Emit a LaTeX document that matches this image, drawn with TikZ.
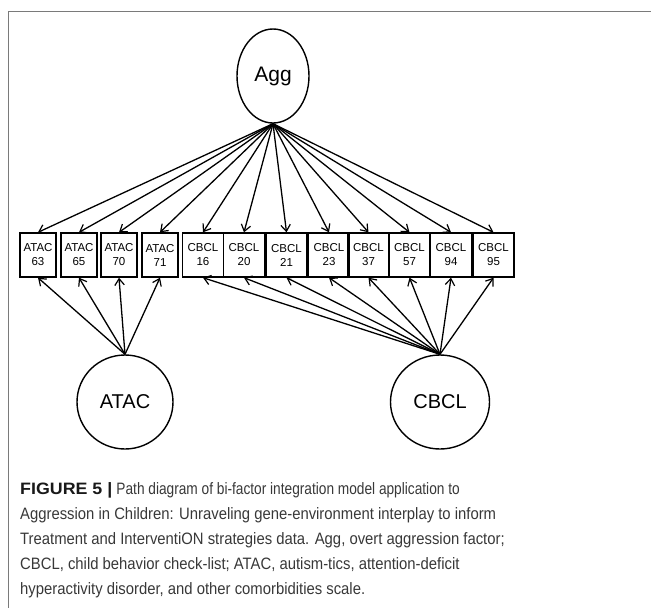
\documentclass[tikz,border=0pt]{standalone}
\usepackage{fontspec}
\setmainfont{Liberation Sans}
\newfontfamily\captfont[FakeStretch=0.9]{Liberation Sans}
\newfontfamily\captnarrow[FakeStretch=0.83]{Liberation Sans}
\newfontfamily\captbold[FakeStretch=1.08]{Liberation Sans Bold}
\usetikzlibrary{shapes.geometric}
\usetikzlibrary{arrows.meta}
\definecolor{framegray}{HTML}{7A7A7A}
\definecolor{captgray}{HTML}{383838}

\begin{document}
\begin{tikzpicture}[
    x=1pt, y=-1pt,
    latent/.style={ellipse, draw, line width=1.4pt, minimum width=96pt, minimum height=94pt, inner sep=0pt, font=\fontsize{20}{24}\selectfont},
    item/.style={rectangle, draw, line width=1.4pt, minimum width=41pt, minimum height=44pt, inner sep=0pt, align=center, font=\fontsize{11.5}{14}\selectfont},
    atacitem/.style={item, minimum width=36pt},
    arrow/.style={-{Straight Barb[length=6.5pt, width=9.5pt, line width=1.2pt]}, line width=1.3pt},
    captline/.style={anchor=base west, inner sep=0pt, text=captgray, font=\captfont\fontsize{16.5}{20}\selectfont}
]
\useasboundingbox (0,0) rectangle (651,608);

% Frame
\draw[framegray, line width=1pt] (8,608) -- (8,11) -- (651,11);

% Nodes
\node[latent, minimum width=72pt, font=\fontsize{21}{24}\selectfont] (agg) at (273,76) {Agg};
\node[latent] (atac) at (125,402) {ATAC};
\node[latent, minimum width=99pt] (cbcl) at (440,402) {CBCL};

\node[atacitem] (a63) at (38,255) {ATAC\\63};
\node[atacitem] (a65) at (79,255) {ATAC\\65};
\node[atacitem] (a70) at (119,255) {ATAC\\70};
\node[atacitem] (a71) at (160,255) {ATAC\\71};
\node[item] (c16) at (203,255) {CBCL\\16};
\node[item] (c20) at (244,255) {CBCL\\20};
\node[item] (c21) at (286.5,255) {CBCL\\21};
\node[item] (c23) at (329,255) {CBCL\\23};
\node[item] (c37) at (368.5,255) {CBCL\\37};
\node[item] (c57) at (409.5,255) {CBCL\\57};
\node[item] (c94) at (451,255) {CBCL\\94};
\node[item] (c95) at (493.5,255) {CBCL\\95};

% Paths
\draw[arrow] (agg.south) -- (a63.north);
\draw[arrow] (agg.south) -- (a65.north);
\draw[arrow] (agg.south) -- (a70.north);
\draw[arrow] (agg.south) -- (a71.north);
\draw[arrow] (agg.south) -- (c16.north);
\draw[arrow] (agg.south) -- (c20.north);
\draw[arrow] (agg.south) -- (c21.north);
\draw[arrow] (agg.south) -- (c23.north);
\draw[arrow] (agg.south) -- (c37.north);
\draw[arrow] (agg.south) -- (c57.north);
\draw[arrow] (agg.south) -- (c94.north);
\draw[arrow] (agg.south) -- (c95.north);

\draw[arrow] (atac.north) -- (a63.south);
\draw[arrow] (atac.north) -- (a65.south);
\draw[arrow] (atac.north) -- (a70.south);
\draw[arrow] (atac.north) -- (a71.south);

\draw[arrow] (cbcl.north) -- (c16.south);
\draw[arrow] (cbcl.north) -- (c20.south);
\draw[arrow] (cbcl.north) -- (c21.south);
\draw[arrow] (cbcl.north) -- (c23.south);
\draw[arrow] (cbcl.north) -- (c37.south);
\draw[arrow] (cbcl.north) -- (c57.south);
\draw[arrow] (cbcl.north) -- (c94.south);
\draw[arrow] (cbcl.north) -- (c95.south);

% Caption
\node[captline] (line1) at (20,494) {{\captbold\fontsize{16.5}{20}\selectfont\color{black!90}FIGURE 5 |} {\captnarrow\fontsize{16.5}{20}\selectfont Path diagram of bi-factor integration model application to}};
\node[captline] (line2) at (20,519) {Aggression in Children: Unraveling gene-environment interplay to inform};
\node[captline] (line3) at (20,544) {Treatment and InterventiON strategies data. Agg, overt aggression factor;};
\node[captline] (line4) at (20,569) {CBCL, child behavior check-list; ATAC, autism-tics, attention-deficit};
\node[captline] (line5) at (20,594) {hyperactivity disorder, and other comorbidities scale.};

\end{tikzpicture}
\end{document}
